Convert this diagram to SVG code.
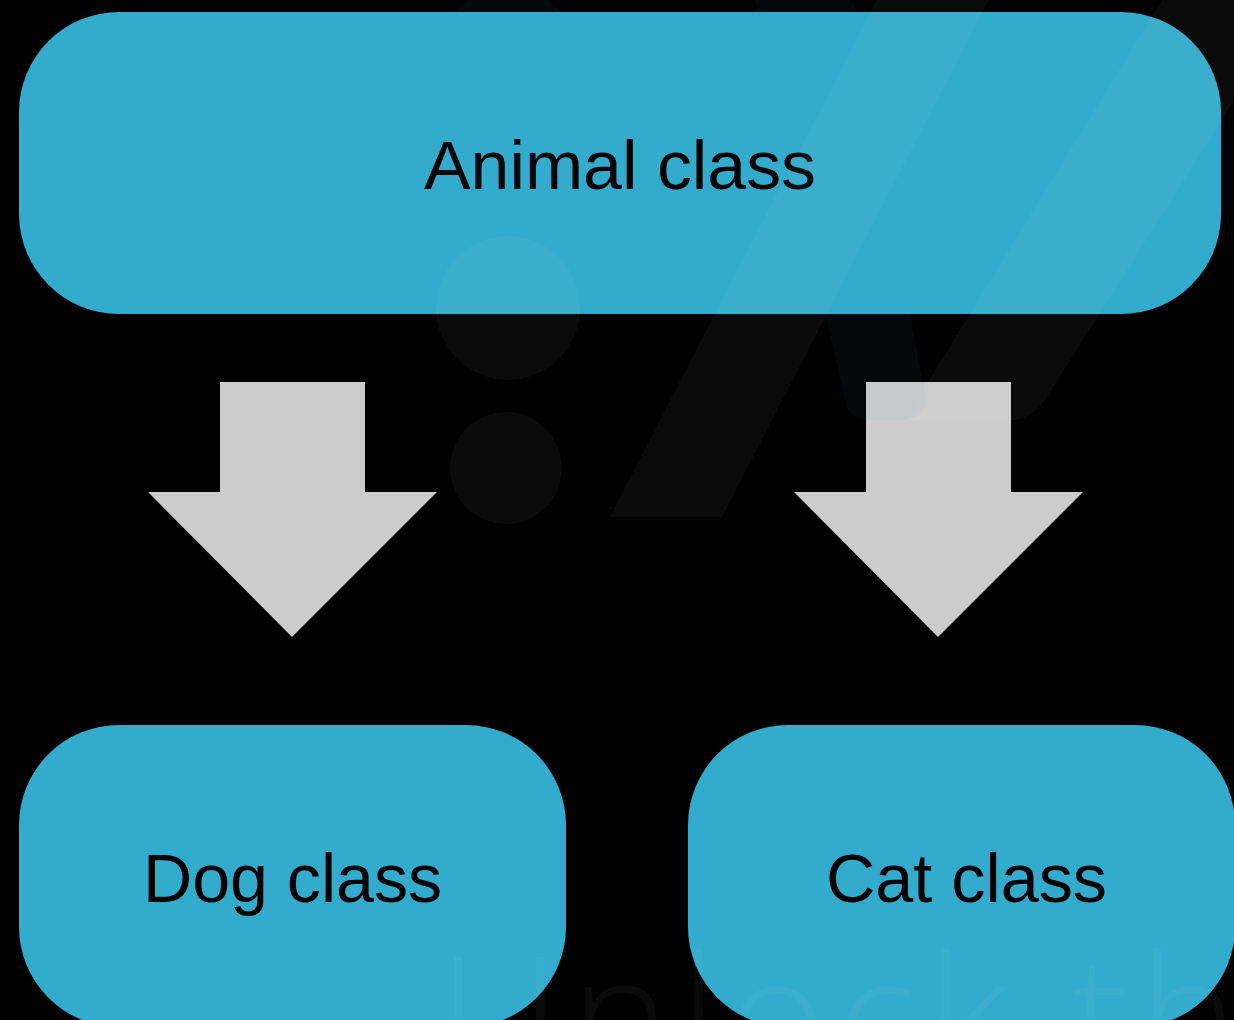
<svg xmlns="http://www.w3.org/2000/svg" width="1234" height="1020" viewBox="0 0 1234 1020">
  <style>
    .box { fill: #33abcc; }
    .label { font-family: "Liberation Sans", Arial, sans-serif; font-size: 68px; fill: #000000; text-anchor: middle; }
    .arrow { fill: #cccccc; }
    .wm { fill: #ffffff; fill-opacity: 0.04; }
    .wmb { fill: #3cb4dc; fill-opacity: 0.05; }
  </style>
  <rect x="0" y="0" width="1234" height="1020" fill="#000000"/>

  <g id="animal">
    <rect class="box" x="19" y="12" width="1202" height="302" rx="100" ry="100"/>
    <text class="label" x="620" y="189" textLength="392" lengthAdjust="spacingAndGlyphs">Animal class</text>
  </g>

  <g id="dog">
    <rect class="box" x="19" y="725" width="547" height="302" rx="100" ry="100"/>
    <text class="label" x="292.5" y="902" textLength="299" lengthAdjust="spacingAndGlyphs">Dog class</text>
  </g>

  <g id="cat">
    <rect class="box" x="688" y="725" width="547" height="302" rx="100" ry="100"/>
    <text class="label" x="966.5" y="902" textLength="281" lengthAdjust="spacingAndGlyphs">Cat class</text>
  </g>

  <g id="connectors">
    <polygon class="arrow" points="220,382 365,382 365,492 437,492 292,637 148,492 220,492"/>
    <polygon class="arrow" points="866,382 1011,382 1011,492 1083,492 938,637 794,492 866,492"/>
  </g>

  <g id="watermark">
    <rect class="wmb" x="436" y="-12" width="144" height="212" rx="72" ry="72"/>
    <circle class="wm" cx="508" cy="308" r="72"/>
    <circle class="wm" cx="506" cy="468" r="56"/>
    <path class="wm" d="M610,517 L722,517 L994,-10 L882,-10 Z"/>
    <path class="wmb" d="M755,0 L854,0 L925,395 Q928,420 900,420 L870,420 Q848,420 845,400 Z"/>
    <path class="wm" d="M905,420 L1013,420 Q1030,420 1045,400 L1260,60 L1260,0 L1162,0 L920,395 Q912,420 905,420 Z"/>
    <text x="438" y="1078" font-family="'Open Sans', 'Liberation Sans', sans-serif" font-weight="300" font-size="170" textLength="800" lengthAdjust="spacing" fill="#ffffff" fill-opacity="0.04">Unlock th</text>
  </g>
</svg>
